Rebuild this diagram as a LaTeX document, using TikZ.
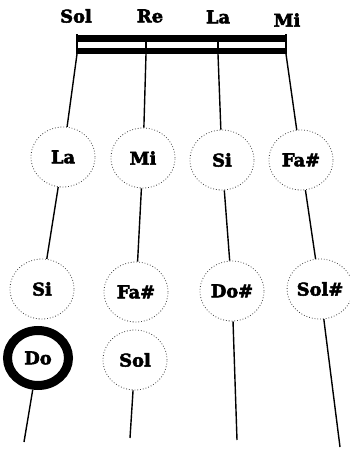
\documentclass[tikz,border=0pt]{standalone}
\usepackage{fontspec}
\newfontfamily\notefont{DejaVu Serif}[BoldFeatures={FakeStretch=1.02,FakeBold=3}]
\usetikzlibrary{shapes.geometric}
\begin{document}
\begin{tikzpicture}[x=1pt,y=-1pt,
  txt/.style={font=\notefont\bfseries\fontsize{17.5}{17.5}\selectfont},
  note/.style={txt,ellipse,draw=black!75,dotted,line width=0.8pt,minimum width=64pt,minimum height=60pt,inner sep=0pt},
  root/.style={txt,ellipse,draw=black,line width=9pt,minimum width=61pt,minimum height=55pt,inner sep=0pt},
  lbl/.style={txt,inner sep=0pt},
  str/.style={draw=black,line width=1.4pt}]
\useasboundingbox (0,0) rectangle (350,450);
% open string labels
\node[lbl] (tSol) at (76,16) {Sol};
\node[lbl] (tRe) at (150,16) {Re};
\node[lbl] (tLa) at (218,17) {La};
\node[lbl] (tMi) at (287,20) {Mi};
% nut
\fill (77,35) rectangle (286,42);
\fill (77,47.5) rectangle (286,54);
\draw[line width=1.2pt] (77,34) -- (77,54) (286,34) -- (286,54) (146,42) -- (146,48) (218,42) -- (218,48);
\coordinate (n1) at (77,54);
\coordinate (n2) at (146,54);
\coordinate (n3) at (218,54);
\coordinate (n4) at (286,54);
% notes
\node[note] (La) at (63,157) {La};
\node[note] (Mi) at (143,158) {Mi};
\node[note] (Si1) at (222,160) {Si};
\node[note] (Fa1) at (301,160) {Fa\#};
\node[note] (Si) at (42,289) {Si};
\node[note] (Fa) at (136,292) {Fa\#};
\node[note] (Do2) at (232,291) {Do\#};
\node[note] (Sol2) at (320,289) {Sol\#};
\node[root] (Do) at (38,358) {Do};
\node[note] (Sol) at (135,360) {Sol};
% free ends
\coordinate (e1) at (24,442);
\coordinate (e2) at (130,438);
\coordinate (e3) at (237,440);
\coordinate (e4) at (340,447);
% strings
\draw[str] (n1) -- (La);
\draw[str] (La) -- (Si);
\draw[str] (Do) -- (e1);
\draw[str] (n2) -- (Mi);
\draw[str] (Mi) -- (Fa);
\draw[str] (Sol) -- (e2);
\draw[str] (n3) -- (Si1);
\draw[str] (Si1) -- (Do2);
\draw[str] (Do2) -- (e3);
\draw[str] (n4) -- (Fa1);
\draw[str] (Fa1) -- (Sol2);
\draw[str] (Sol2) -- (e4);
\end{tikzpicture}
\end{document}
